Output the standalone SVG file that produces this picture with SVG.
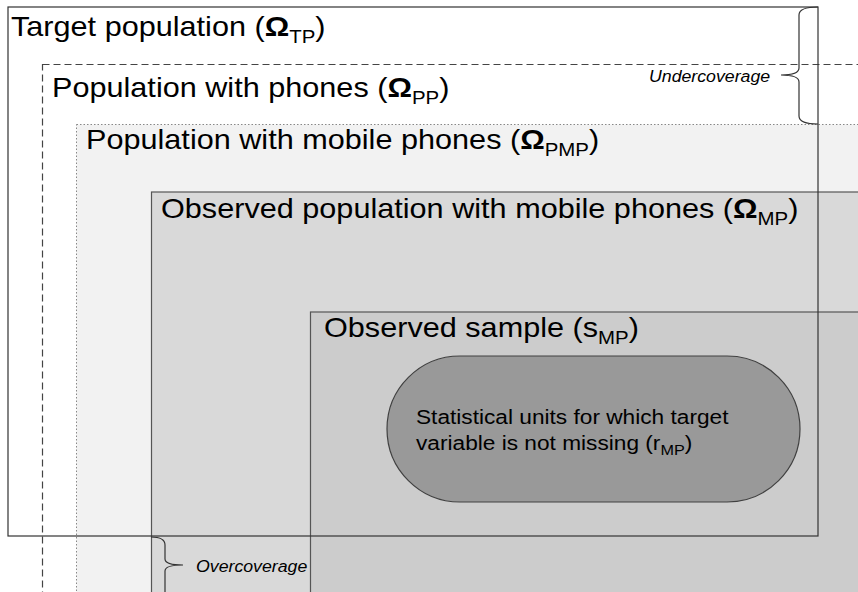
<svg xmlns="http://www.w3.org/2000/svg" width="858" height="592" viewBox="0 0 858 592">
<style>
  text { font-family: "Liberation Sans", Arial, sans-serif; fill: #000; }
  .big { font-size: 28.5px; }
  .sub { font-size: 19px; }
  .om { font-weight: bold; }
  .small { font-size: 21px; }
  .smsub { font-size: 15px; }
  .lab { font-size: 16.5px; font-style: italic; }
  .box { stroke: #555; stroke-width: 1.2; }
  .brace { fill: none; stroke: #333; stroke-width: 1.2; }
</style>
<rect x="0" y="0" width="858" height="592" fill="#fff"/>
<g id="target-population-fill">
  <rect x="8" y="7" width="810" height="529" fill="#fff"/>
</g>
<g id="population-with-phones">
  <rect x="42.5" y="64.5" width="840" height="560" fill="#fff" stroke="#444" stroke-width="1.2" stroke-dasharray="7,4"/>
  <text class="big" transform="translate(52 97) scale(1.075 1)">Population with phones (<tspan class="om">Ω</tspan><tspan class="sub" dy="7">PP</tspan><tspan dy="-7">)</tspan></text>
</g>
<g id="population-with-mobile-phones">
  <rect x="76.5" y="124.5" width="820" height="500" fill="#f2f2f2" stroke="#888" stroke-width="1" stroke-dasharray="1.5,2"/>
  <text class="big" transform="translate(86 149) scale(1.075 1)">Population with mobile phones (<tspan class="om">Ω</tspan><tspan class="sub" dy="7">PMP</tspan><tspan dy="-7">)</tspan></text>
</g>
<g id="observed-population">
  <rect x="151.5" y="192" width="760" height="440" fill="#d9d9d9" class="box"/>
  <text class="big" transform="translate(161 218) scale(1.075 1)">Observed population with mobile phones (<tspan class="om">Ω</tspan><tspan class="sub" dy="7">MP</tspan><tspan dy="-7">)</tspan></text>
</g>
<g id="observed-sample">
  <rect x="310.5" y="312" width="600" height="320" fill="#cccccc" class="box"/>
  <text class="big" transform="translate(324 337) scale(1.075 1)">Observed sample (s<tspan class="sub" dy="7">MP</tspan><tspan dy="-7">)</tspan></text>
</g>
<g id="non-missing-units">
  <rect x="387" y="356" width="413" height="146" rx="73" ry="73" fill="#999999" stroke="#404040" stroke-width="1.2"/>
  <text class="small" transform="translate(416 424) scale(1.08 1)">Statistical units for which target</text>
  <text class="small" transform="translate(416 450) scale(1.08 1)">variable is not missing (r<tspan class="smsub" dy="5">MP</tspan><tspan dy="-5">)</tspan></text>
</g>
<g id="target-population">
  <rect x="8" y="7" width="810" height="529" fill="none" stroke="#333" stroke-width="1.2"/>
  <text class="big" transform="translate(11 36) scale(1.075 1)">Target population (<tspan class="om">Ω</tspan><tspan class="sub" dy="7">TP</tspan><tspan dy="-7">)</tspan></text>
</g>
<g id="connectors">
  <path class="brace" d="M818,7 Q799,7 799,15 L799,68 Q799,75 781,75 Q799,75 799,82 L799,116 Q799,124 818,124"/>
  <path class="brace" d="M151,537 Q165,537 165,545 L165,559 Q165,565 183,565 Q165,565 165,571 L165,600"/>
</g>
<g id="undercoverage-label">
  <text class="lab" transform="translate(649 82) scale(1.075 1)">Undercoverage</text>
</g>
<g id="overcoverage-label">
  <text class="lab" transform="translate(196 572) scale(1.075 1)">Overcoverage</text>
</g>
</svg>
